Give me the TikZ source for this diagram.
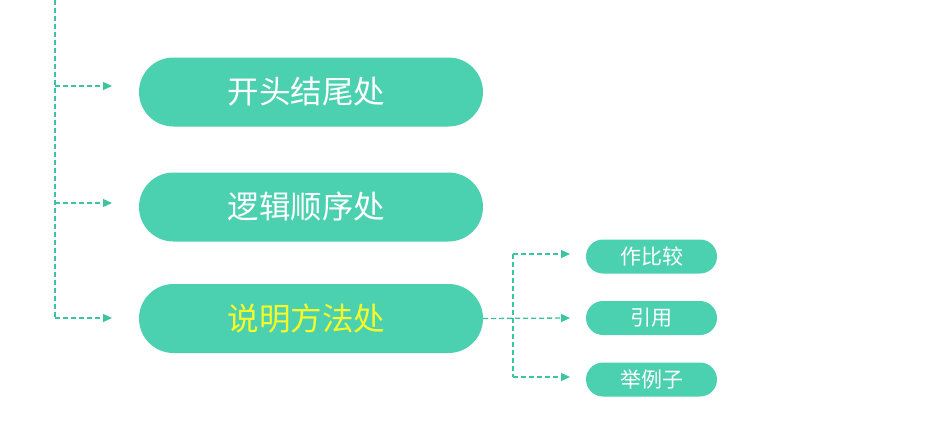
\documentclass[tikz,border=0pt]{standalone}
\usepackage{fontspec}
\setmainfont{Noto Sans CJK SC}
\usetikzlibrary{shapes.misc,arrows.meta}
\definecolor{pillgreen}{RGB}{76,209,176}
\definecolor{linegreen}{RGB}{60,196,160}
\definecolor{hiyellow}{RGB}{246,250,40}
\newcommand{\pilltxt}[1]{#1\kern9pt\relax}
\tikzset{
  bigpill/.style={rounded rectangle, fill=pillgreen, draw=none, minimum width=344pt, minimum height=69pt, inner sep=0pt, text=white, font=\fontsize{31.5}{34}\selectfont},
  smallpill/.style={rounded rectangle, fill=pillgreen, draw=none, minimum width=131pt, minimum height=34pt, inner sep=0pt, text=white, font=\fontsize{21}{24}\selectfont},
  dline/.style={draw=linegreen, line width=1.3pt, dash pattern=on 5pt off 3pt},
  darr/.style={dline, -{Triangle[length=9pt,width=8pt]}}
}
\begin{document}
\begin{tikzpicture}[x=1pt,y=-1pt]
\useasboundingbox[fill=white] (0,0) rectangle (926,424);
\node[bigpill] (p1) at (311,92) {\pilltxt{开头结尾处}};
\node[bigpill] (p2) at (311,207) {\pilltxt{逻辑顺序处}};
\node[bigpill, text=hiyellow] (p3) at (311,318.5) {\pilltxt{说明方法处}};
\node[smallpill] (s1) at (651.5,256.5) {作比较};
\node[smallpill] (s2) at (651.5,318) {引用};
\node[smallpill] (s3) at (651.5,379.5) {举例子};
% trunk
\coordinate (ttop) at (55,0);
\coordinate (tbot) at (55,318);
\coordinate (a1) at (112,86);
\coordinate (a2) at (112,203);
\coordinate (a3) at (112,318);
\draw[dline] (ttop) -- (tbot);
\draw[darr] (a1 -| ttop) -- (a1);
\draw[darr] (a2 -| ttop) -- (a2);
\draw[darr] (a3 -| ttop) -- (a3);
% branch
\coordinate (btop) at (513,254);
\coordinate (bbot) at (513,377);
\coordinate (c1) at (570,254);
\coordinate (c2) at (570,318);
\coordinate (c3) at (570,377);
\draw[dline] (btop) -- (bbot);
\draw[darr] (p3.east) -- (c2);
\draw[darr] (btop) -- (c1);
\draw[darr] (bbot) -- (c3);
\end{tikzpicture}
\end{document}
